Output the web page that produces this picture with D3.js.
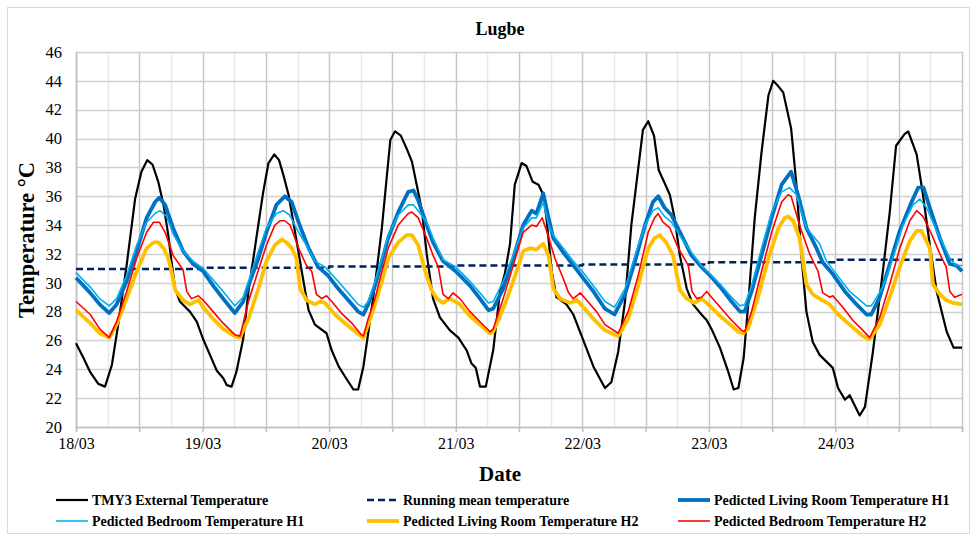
<!DOCTYPE html>
<html>
<head>
<meta charset="utf-8">
<script src="https://cdn.jsdelivr.net/npm/d3@7"></script>
<style>
  body { margin: 0; background: #fff; }
  svg text { font-family: "Liberation Serif", "Times New Roman", serif; }
</style>
</head>
<body>
<div id="chart"></div>
<script>
// hours counted from 18/03 00:00
var dayLabels = ["18/03", "19/03", "20/03", "21/03", "22/03", "23/03", "24/03"];
var yTicks = [20, 22, 24, 26, 28, 30, 32, 34, 36, 38, 40, 42, 44, 46];

var extHours = [0, 1.4, 2.7, 4.2, 5.5, 6.8, 8, 9.6, 11.2, 12.4, 13.5, 14.5, 15.6, 16.6, 17.5, 18.1, 18.8, 19.7, 21.6, 22.9,
  24.1, 25.4, 26.7, 27.9, 28.6, 29.5, 30.4, 31.7, 32.7, 35.5, 36.5, 37.6, 38.5, 39.3, 40.3, 41.5, 42.8, 44.1, 45.3, 47.5,
  48.5, 49.8, 51, 52.6, 53.5, 54.5, 55.4, 56.7, 58, 58.6, 59.6, 60.5, 61.6, 62.7, 63.7, 64.6, 65.6, 66.5, 67.7, 69, 70.9,
  72.5, 74.1, 75, 75.8, 76.6, 77.7, 79.1, 80.4, 81.3, 82.3, 83.2, 84.5, 85.4, 86.6, 87.7, 88.6, 89.2, 90.2, 91.1, 93, 94.3,
  96.2, 98.1, 100.3, 101.5, 102.8, 104.1, 105.3, 106.6, 107.5, 108.5, 109.6, 110.5, 111.5, 112.6, 113.5, 114.5, 115.8,
  117, 118.6, 119.6, 120.5, 122.1, 123.7, 124.7, 125.6, 126.6, 127.5, 128.7, 130, 131.3, 132.2, 133, 134.1, 135.6, 136.6,
  137.5, 138.5, 139.7, 141, 143.5, 144.5, 145.8, 146.7, 148.6, 149.6, 151.1, 153, 154.3, 155.5, 157.1, 157.8, 159.4,
  160.6, 161.9, 163.2, 165.1, 166.4, 168];
var extTemp = [25.8, 24.8, 23.8, 23.0, 22.8, 24.3, 27.1, 31.2, 35.8, 37.7, 38.5, 38.2, 37.0, 35.4, 33.3, 31.5, 29.6, 28.7, 28.0, 27.3,
  26.1, 25.0, 23.9, 23.4, 22.9, 22.8, 23.8, 26.1, 29.4, 36.3, 38.3, 38.9, 38.5, 37.5, 36.1, 33.6, 30.8, 28.1, 27.1, 26.5,
  25.3, 24.2, 23.5, 22.6, 22.6, 24.2, 26.5, 29.9, 33.8, 36.1, 39.9, 40.5, 40.2, 39.3, 38.4, 36.8, 35.0, 32.0, 28.9, 27.6, 26.7,
  26.2, 25.3, 24.4, 24.1, 22.8, 22.8, 25.3, 29.4, 30.6, 32.7, 36.8, 38.3, 38.1, 37.0, 36.8, 36.1, 34.5, 30.8, 29.0, 28.5, 27.8,
  26.0, 24.2, 22.7, 23.1, 25.2, 28.7, 34.0, 37.9, 40.6, 41.2, 40.2, 37.8, 37.0, 36.1, 34.5, 31.9, 29.6,
  28.5, 27.8, 27.4, 26.8, 25.5, 23.8, 22.6, 22.7, 24.8, 28.7, 34.5, 39.1, 43.0, 44.0, 43.7, 43.2, 40.7, 36.8,
  32.1, 28.0, 25.9, 25.0, 24.1, 22.7, 21.9, 22.2, 20.8, 21.4, 25.2, 30.8, 34.9, 39.5, 40.3, 40.5, 38.9,
  36.1, 32.6, 29.4, 26.6, 25.5, 25.5];

var meanHours = [0, 24, 48, 72, 96, 120, 144, 168];
var meanTemp = [30.95, 31.04, 31.12, 31.2, 31.27, 31.42, 31.6, 31.6];

var lr1Hours = [0, 2.7, 4.5, 6.3, 7.7, 9.6, 11.5, 13.4, 15, 15.8, 16.9, 18.4, 20.3, 22.2, 24.1, 26, 27.9, 30.1, 31.7, 32.7,
  34.6, 36.1, 38, 39.6, 40.9, 42.2, 44.1, 45.9, 47.8, 49.7, 51.6, 53.5, 54.5, 55.4, 56.7, 58, 59.2, 61.1, 63, 64, 64.9,
  66.5, 67.7, 69.6, 72, 74.7, 76.6, 78.2, 79.1, 81, 82.9, 84.8, 86.4, 87.3, 88.6, 89.6, 90.5, 92.4, 94.3, 96.2, 98.1,
  100.3, 102.1, 104.1, 106, 107.9, 109.4, 110.4, 111.6, 112.9, 114.8, 116.7, 118.6, 120.5, 122.4, 124.3, 125.9, 126.8,
  128.1, 130, 131.9, 133.8, 135.6, 136.9, 138.5, 140.4, 141.6, 143.5, 145.8, 148, 149.9, 150.8, 152.4, 154.3, 156.2,
  158.2, 159.7, 160.7, 161.9, 163.8, 165.7, 166.9, 168];
var lr1Temp = [30.35, 29.3, 28.5, 27.9, 28.5, 30.1, 32.2, 34.5, 35.6, 35.9, 35.4, 33.8, 32.2, 31.3, 30.8, 29.8, 28.9, 27.9, 28.7, 29.8,
  31.7, 33.5, 35.4, 36.0, 35.6, 34.2, 32.4, 31.1, 30.5, 29.6, 28.8, 28.0, 27.8, 28.5, 29.8, 31.5, 33.1, 34.9, 36.3, 36.4, 35.7,
  34.0, 32.8, 31.5, 30.8, 29.8, 28.9, 28.1, 28.2, 29.6, 31.7, 34.0, 35.0, 34.8, 36.2, 34.5, 33.1, 32.1, 31.2, 30.3, 29.4,
  28.2, 27.8, 29.2, 31.5, 34.0, 35.6, 36.0, 35.2, 34.7, 33.3, 31.9, 31.1, 30.4, 29.6, 28.7, 28.0, 28.0,
  29.4, 31.9, 34.5, 36.8, 37.7, 36.1, 33.8, 32.4, 31.4, 30.6, 29.4, 28.5, 27.8, 27.8, 29.0, 31.3, 33.6,
  35.4, 36.6, 36.6, 35.2, 33.1, 31.3, 31.2, 30.8];

var br1Hours = [0, 2.7, 4.5, 6.3, 7.7, 9.6, 11.5, 13.4, 15, 15.9, 17.2, 18.4, 20.3, 22.2, 24.1, 26, 27.9, 30.1, 31.7, 32.7,
  34.6, 36.1, 38, 39.3, 40.5, 42.2, 43.7, 45.3, 47.2, 49.7, 51.6, 53.5, 54.5, 55.4, 56.7, 58, 59.2, 61.1, 63, 64, 64.9,
  66.5, 67.7, 69.6, 72, 74.7, 76.6, 78.2, 79.1, 81, 82.9, 84.8, 86.4, 87.3, 88.6, 89.6, 90.5, 92.4, 94.3, 96.2, 98.1,
  100.3, 102.1, 104.1, 106, 107.9, 109.4, 110.4, 111.6, 112.9, 114.8, 116.7, 118.6, 120.5, 122.4, 124.3, 125.9, 126.8,
  128.1, 130, 131.9, 133.8, 135.3, 136.6, 138.5, 141, 142.3, 144.2, 146.7, 149.9, 150.8, 153, 154.9, 156.8, 158.7,
  160, 161.3, 163.2, 165.7, 166.9, 168];
var br1Temp = [30.7, 29.7, 28.9, 28.4, 28.9, 30.5, 32.6, 34.2, 34.8, 35.0, 34.6, 33.4, 32.2, 31.5, 31.0, 30.2, 29.4, 28.4, 29.0, 30.1,
  32.2, 33.8, 34.8, 35.0, 34.7, 33.5, 32.6, 31.5, 31.1, 30.1, 29.3, 28.5, 28.3, 28.7, 30.1, 31.7, 33.3, 34.7, 35.4, 35.4, 35.0,
  34.2, 33.1, 31.6, 31.1, 30.1, 29.3, 28.6, 28.7, 30.1, 31.9, 33.8, 34.5, 34.5, 35.6, 34.0, 33.3, 32.4, 31.5, 30.7, 29.8,
  28.7, 28.3, 29.6, 31.9, 34.0, 35.0, 35.2, 34.6, 34.2, 33.1, 32.1, 31.2, 30.5, 29.8, 29.0, 28.4, 28.5,
  29.8, 32.4, 34.9, 36.3, 36.6, 36.1, 33.8, 32.7, 31.5, 30.6, 29.4, 28.4, 28.4, 29.7, 31.7, 34.0, 35.4,
  35.8, 35.2, 33.6, 31.7, 31.2, 31.2];

var lr2Hours = [0, 2.7, 4.5, 6.3, 7.7, 9.6, 11.5, 13.4, 14.7, 15.6, 16.6, 17.5, 18.1, 18.8, 20.3, 21.6, 23.2, 24.1, 26, 27.9,
  30.1, 31.1, 32.7, 34.6, 36.1, 37.7, 39, 39.9, 40.9, 41.8, 42.5, 43.7, 45.3, 46.3, 47.2, 49.1, 51.6, 54.1, 54.5, 55.4,
  56.7, 58, 59.2, 61.1, 62.7, 63.7, 64.9, 66.2, 67.4, 68.4, 69.6, 70.9, 72.8, 74.7, 76.6, 78.5, 79.1, 81, 82.9, 84.8,
  86.1, 87.3, 88.6, 89.6, 90.5, 91.8, 93.7, 95, 96.2, 98.1, 100.3, 102.8, 104.7, 106.6, 108.5, 109.7, 110.7, 111.9,
  113.2, 114.5, 115.8, 117.3, 118.6, 119.9, 121.8, 123.7, 125.6, 126.5, 127.4, 129.4, 131.3, 133.2, 134.4, 135, 136,
  137.2, 138.5, 139.7, 141, 142.9, 144.5, 146.7, 149.2, 150.5, 152.4, 154.3, 156.2, 158.1, 159.4, 160.3, 161.9, 162.5,
  163.8, 165, 166.3, 168];
var lr2Temp = [28.1, 27.2, 26.5, 26.2, 27.1, 28.9, 30.8, 32.4, 32.8, 32.8, 32.4, 31.7, 30.8, 29.5, 28.8, 28.5, 28.8, 28.3, 27.5, 26.8,
  26.3, 26.2, 27.5, 29.6, 31.5, 32.6, 33.0, 32.8, 32.4, 31.7, 29.6, 28.8, 28.5, 28.7, 28.6, 27.8, 27.0, 26.3, 26.2, 27.1,
  28.5, 30.1, 31.7, 32.8, 33.3, 33.3, 32.6, 30.8, 29.5, 28.9, 28.6, 28.9, 28.5, 27.7, 27.1, 26.5, 26.6, 28.2, 30.1, 32.2,
  32.4, 32.3, 32.7, 31.9, 29.6, 28.9, 28.6, 28.8, 28.3, 27.5, 26.7, 26.3, 27.5, 29.8, 32.4, 33.1, 33.3, 32.8,
  31.9, 29.5, 28.9, 28.6, 28.9, 28.5, 27.8, 27.2, 26.6, 26.5, 26.8, 29.1, 31.7, 33.8, 34.5, 34.6, 34.3,
  33.1, 29.9, 29.2, 28.9, 28.5, 27.8, 27.1, 26.3, 26.1, 27.1, 29.0, 31.1, 32.9, 33.6, 33.6, 32.4, 29.9,
  29.2, 28.8, 28.6, 28.5];

var br2Hours = [0, 2.7, 4.5, 6.3, 7.7, 9.6, 11.5, 13.4, 14.7, 15.8, 16.9, 18.4, 20.3, 21, 21.9, 23.2, 24.1, 26, 27.9, 30.1,
  31.1, 32.7, 34.6, 36.1, 37.7, 38.7, 39.6, 40.6, 42.2, 43.7, 44.7, 45.6, 46.6, 47.5, 48.5, 50.3, 52.3, 54.1, 54.5, 55.4,
  56.7, 58, 59.2, 61.1, 63, 63.7, 64.9, 66.6, 67.7, 68.7, 69.6, 70.6, 71.5, 72.8, 74.7, 76.6, 78.5, 79.1, 81, 82.9, 84.8,
  86.4, 87.3, 88.4, 89.5, 90.8, 92.4, 93.4, 94.3, 95.6, 96.8, 98.7, 100.3, 102.8, 104.7, 106.6, 108.5, 109.7, 110.4,
  111.3, 112.6, 114.2, 116.1, 116.8, 117.7, 118.6, 119.6, 120.5, 122.4, 124.3, 126.2, 126.8, 128.1, 130, 131.9, 133.8,
  135, 135.6, 137.2, 139.1, 140.7, 141.6, 142.9, 143.5, 145.4, 147.3, 149.2, 150.5, 152.4, 154.3, 156.2, 158.1, 159.4,
  160.6, 162.2, 163.8, 165, 165.7, 166.6, 168];
var br2Temp = [28.7, 27.8, 26.8, 26.2, 27.3, 29.4, 31.7, 33.5, 34.2, 34.2, 33.5, 31.9, 30.9, 29.4, 28.9, 29.1, 28.8, 28.0, 27.2, 26.4,
  26.3, 28.7, 30.9, 32.6, 34.0, 34.3, 34.3, 34.0, 32.4, 31.2, 30.8, 29.2, 28.9, 29.1, 28.7, 27.9, 27.2, 26.4, 26.3, 27.5,
  28.9, 30.8, 32.4, 34.0, 34.8, 34.9, 34.5, 33.0, 31.9, 31.1, 29.2, 28.9, 29.3, 28.9, 28.0, 27.3, 26.6, 26.8, 28.9, 31.2, 33.5,
  34.0, 33.9, 34.5, 33.3, 31.7, 30.3, 29.3, 28.9, 29.3, 28.8, 28.0, 27.1, 26.5, 28.0, 30.5, 33.5, 34.5, 34.8,
  34.2, 33.8, 32.4, 31.2, 29.4, 28.9, 29.0, 29.4, 29.0, 28.2, 27.4, 26.7, 26.6, 28.0, 30.8, 33.5, 35.6,
  36.1, 36.0, 34.0, 32.0, 30.8, 29.3, 29.0, 29.1, 28.3, 27.4, 26.7, 26.2, 27.6, 29.9, 32.4, 34.3, 35.0,
  34.6, 33.4, 32.0, 31.1, 29.4, 29.0, 29.2];

var width = 977,
  height = 540,
  plotLeft = 76,
  plotRight = 962,
  plotTop = 52,
  plotBottom = 427;

var svg = d3.select("#chart").append("svg")
  .attr("width", width)
  .attr("height", height);

// outer chart border
svg.append("rect")
  .attr("x", 7.5).attr("y", 7.5)
  .attr("width", 962).attr("height", 526)
  .attr("fill", "#fff")
  .attr("stroke", "#d9d9d9");

var x = d3.scaleLinear().domain([0, 168]).range([plotLeft, plotRight]);
var y = d3.scaleLinear().domain([20, 46]).range([plotBottom, plotTop]);

// vertical grid every 6 hours, darker at 00 and 12
var gridHours = d3.range(0, 169, 6);
svg.append("g").selectAll("line")
  .data(gridHours)
  .enter().append("line")
  .attr("x1", function(d){ return Math.round(x(d)) + 0.5; })
  .attr("x2", function(d){ return Math.round(x(d)) + 0.5; })
  .attr("y1", plotTop)
  .attr("y2", plotBottom)
  .attr("stroke", function(d){ return d % 12 === 0 ? "#c6c6c6" : "#e8e8e8"; })
  .attr("stroke-width", 1.5);

// horizontal grid
svg.append("g").selectAll("line")
  .data(yTicks)
  .enter().append("line")
  .attr("x1", plotLeft)
  .attr("x2", plotRight)
  .attr("y1", function(d){ return Math.round(y(d)) + 0.5; })
  .attr("y2", function(d){ return Math.round(y(d)) + 0.5; })
  .attr("stroke", "#d0d0d0")
  .attr("stroke-width", 1.5);

// y axis labels
var yAxis = d3.axisLeft(y).tickValues(yTicks).tickSize(0).tickPadding(14);
var gy = svg.append("g")
  .attr("transform", "translate(" + plotLeft + ",0)")
  .call(yAxis);
gy.select(".domain").attr("stroke", "#bfbfbf").attr("stroke-width", 1.5);
gy.selectAll("text")
  .attr("font-family", "Liberation Serif")
  .attr("font-size", 16.5)
  .attr("fill", "#000");

// x axis: ticks every 12 hours, labels at each day
var xAxis = d3.axisBottom(x)
  .tickValues(d3.range(0, 169, 12))
  .tickSize(5)
  .tickPadding(6)
  .tickFormat(function(d){ return d % 24 === 0 ? (dayLabels[d / 24] || "") : ""; });
var gx = svg.append("g")
  .attr("transform", "translate(0," + plotBottom + ")")
  .call(xAxis);
gx.select(".domain").attr("stroke", "#bfbfbf").attr("stroke-width", 1.5);
gx.selectAll(".tick line").attr("stroke", "#bfbfbf").attr("stroke-width", 1.5);
gx.selectAll("text")
  .attr("font-family", "Liberation Serif")
  .attr("font-size", 16)
  .attr("fill", "#000");

// series
function pairs(hours, temps){
  return hours.map(function(h, i){ return [h, temps[i]]; });
}

var line = d3.line()
  .x(function(d){ return x(d[0]); })
  .y(function(d){ return y(d[1]); });

var stepLine = d3.line()
  .curve(d3.curveStepAfter)
  .x(function(d){ return x(d[0]); })
  .y(function(d){ return y(d[1]); });

var series = [
  { name: "TMY3 External Temperature", data: pairs(extHours, extTemp), color: "#000000", width: 2.2, dash: null, gen: line },
  { name: "Running mean temperature", data: pairs(meanHours, meanTemp), color: "#002060", width: 2.5, dash: "7,4", gen: stepLine },
  { name: "Pedicted Living Room Temperature H1", data: pairs(lr1Hours, lr1Temp), color: "#0070C0", width: 3.8, dash: null, gen: line },
  { name: "Pedicted Bedroom Temperature H1", data: pairs(br1Hours, br1Temp), color: "#00B0F0", width: 1.6, dash: null, gen: line },
  { name: "Pedicted Living Room Temperature H2", data: pairs(lr2Hours, lr2Temp), color: "#FFC000", width: 3.8, dash: null, gen: line },
  { name: "Pedicted Bedroom Temperature H2", data: pairs(br2Hours, br2Temp), color: "#FF0000", width: 1.6, dash: null, gen: line }
];

series.forEach(function(s){
  svg.append("path")
    .datum(s.data)
    .attr("fill", "none")
    .attr("stroke", s.color)
    .attr("stroke-width", s.width)
    .attr("stroke-linejoin", "round")
    .attr("stroke-dasharray", s.dash)
    .attr("d", s.gen);
});

// titles
svg.append("text")
  .attr("x", 500).attr("y", 35)
  .attr("text-anchor", "middle")
  .attr("font-size", 18).attr("font-weight", "bold")
  .text("Lugbe");

svg.append("text")
  .attr("x", 500).attr("y", 481)
  .attr("text-anchor", "middle")
  .attr("font-size", 21).attr("font-weight", "bold")
  .text("Date");

svg.append("text")
  .attr("transform", "translate(34,240) rotate(-90)")
  .attr("text-anchor", "middle")
  .attr("font-size", 22.5).attr("font-weight", "bold")
  .text("Temperature °C");

// legend, 3 columns x 2 rows
var legendX = [92, 403, 714],
  legendY = [505, 526];

series.forEach(function(s, i){
  var col = i % 3, row = Math.floor(i / 3);
  var tx = legendX[col], ty = legendY[row];
  svg.append("line")
    .attr("x1", tx - 36).attr("x2", tx - 4)
    .attr("y1", ty - 5).attr("y2", ty - 5)
    .attr("stroke", s.color)
    .attr("stroke-width", s.width)
    .attr("stroke-dasharray", s.dash ? "7,4" : null);
  svg.append("text")
    .attr("x", tx).attr("y", ty)
    .attr("font-size", 14).attr("font-weight", "bold")
    .text(s.name);
});
</script>
</body>
</html>
